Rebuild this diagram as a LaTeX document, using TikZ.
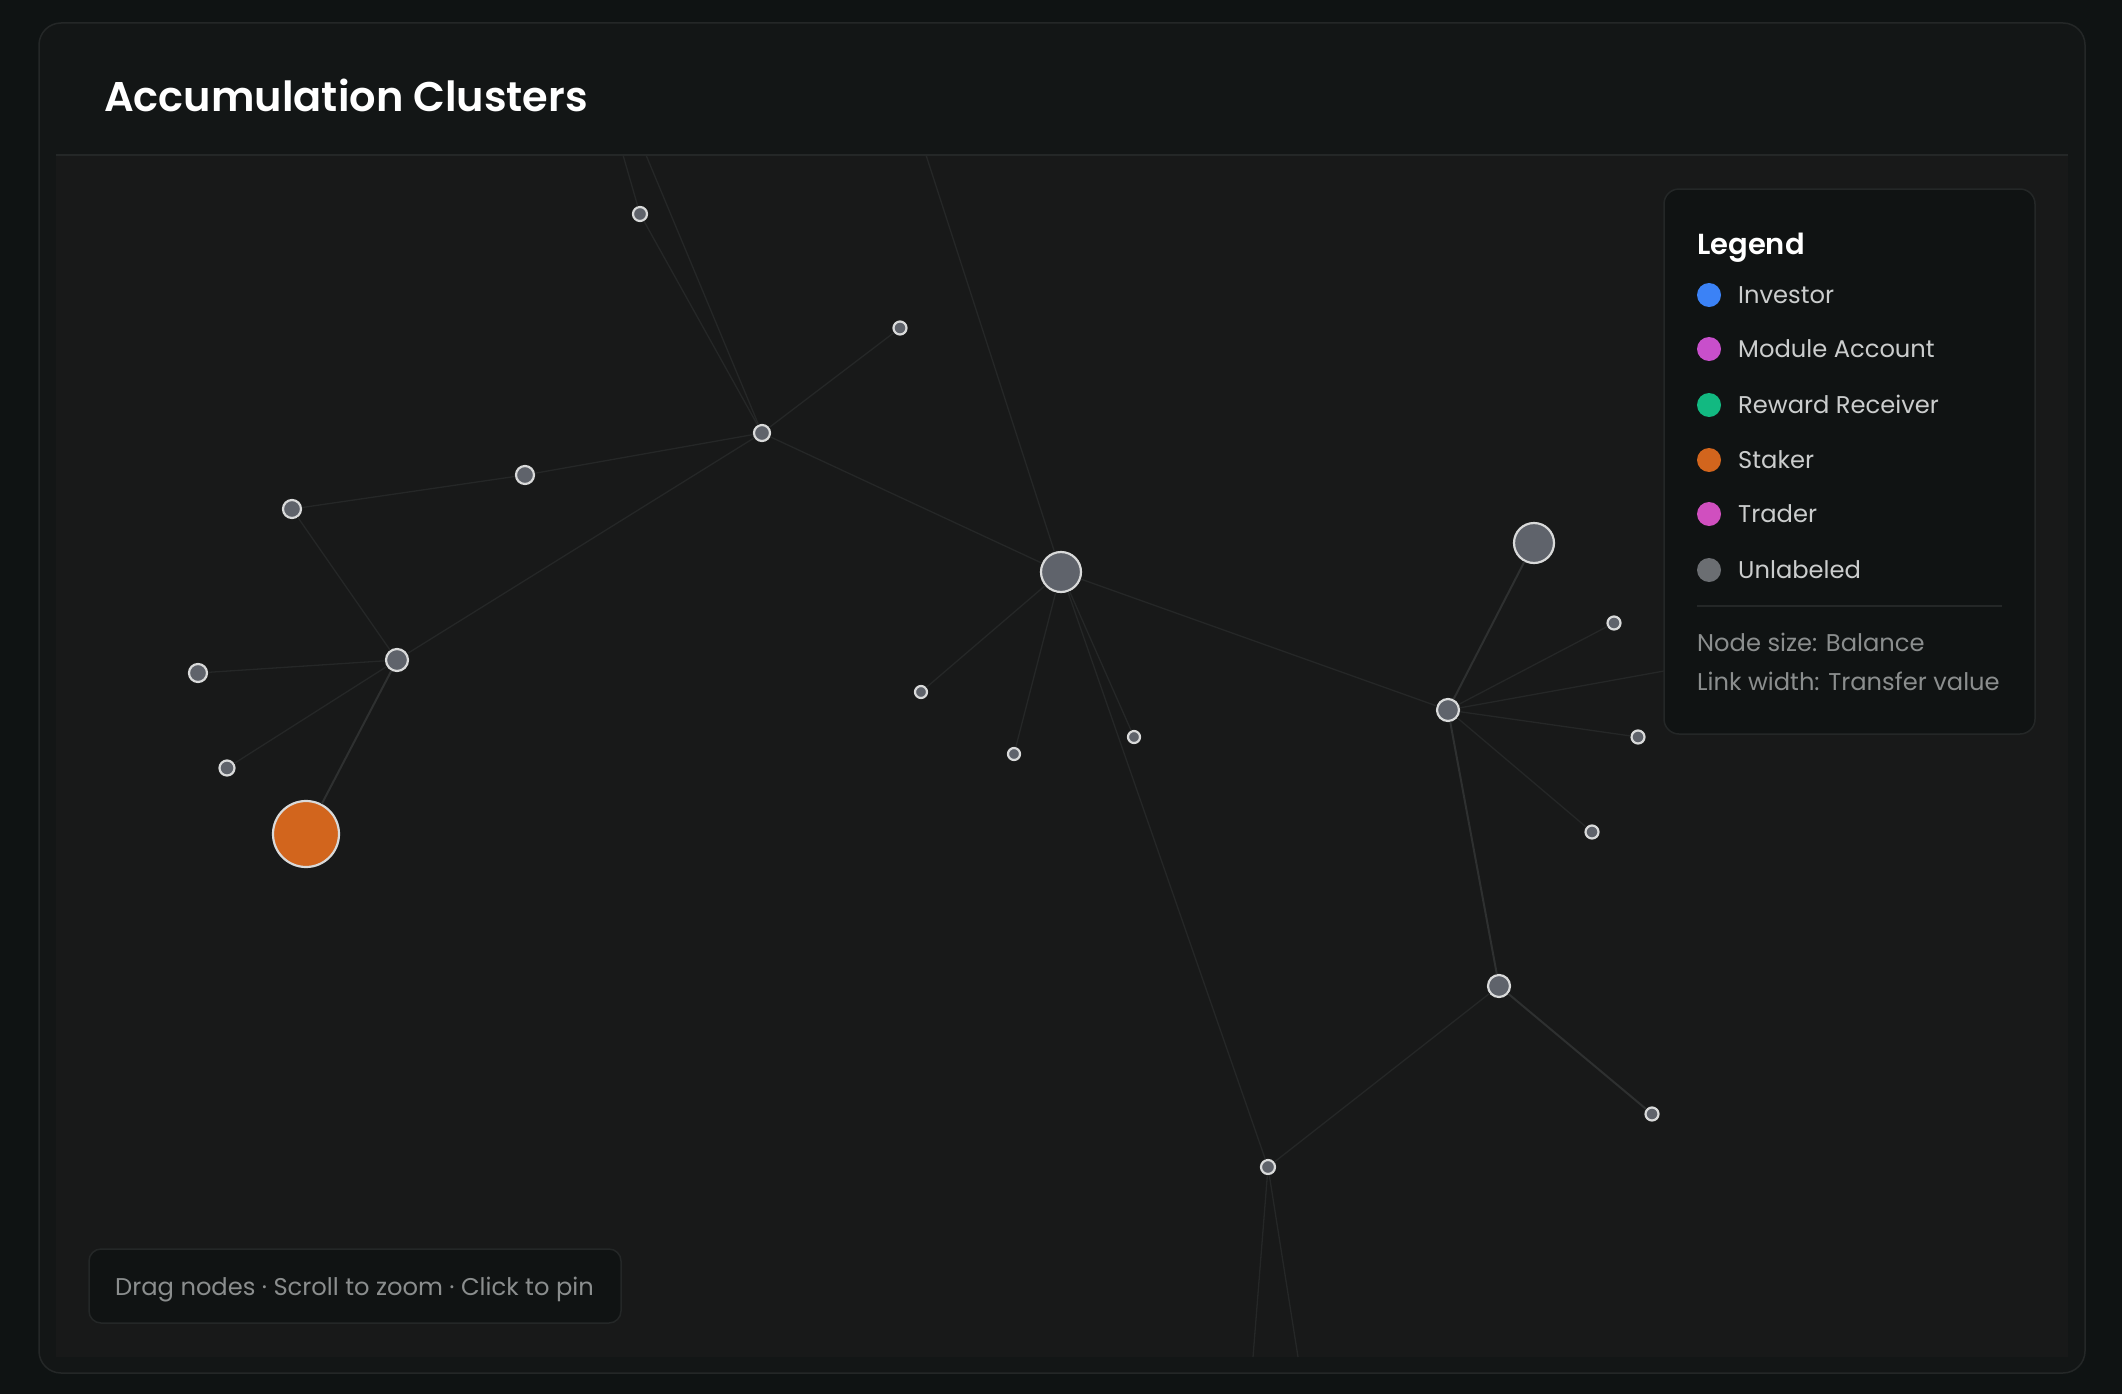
\documentclass[tikz,border=0pt]{standalone}
\usepackage{fontspec}
\setmainfont{Poppins}[BoldFont={Poppins SemiBold}]
\definecolor{pagebg}{HTML}{0F1313}
\definecolor{cardbg}{HTML}{131616}
\definecolor{plotbg}{HTML}{181919}
\definecolor{frameln}{HTML}{242727}
\definecolor{linkc}{HTML}{252727}
\definecolor{flowc}{HTML}{2E3030}
\definecolor{nodefill}{HTML}{5F636B}
\definecolor{ringc}{HTML}{D9DADA}
\definecolor{stakerc}{HTML}{D2651D}
\definecolor{investorc}{HTML}{3B82F6}
\definecolor{modulec}{HTML}{C84FCB}
\definecolor{rewardc}{HTML}{12B981}
\definecolor{traderc}{HTML}{D04FBF}
\definecolor{unlabc}{HTML}{6B6E72}
\definecolor{legtext}{HTML}{CBCDCD}
\definecolor{dimtext}{HTML}{8B8E8E}
\definecolor{panelbg}{HTML}{101313}
\begin{document}
\begin{tikzpicture}[x=1pt,y=-1pt,
    acct/.style={circle,draw=ringc,fill=nodefill,line width=2.2pt,inner sep=0pt,minimum size=#1pt},
    acct/.default=14,
    link/.style={draw=linkc,line width=1.3pt},
    flow/.style={draw=flowc,line width=2pt},
    key/.style={circle,inner sep=0pt,minimum size=24pt,fill=#1},
    txt/.style={anchor=base west,inner sep=0pt},
    keytext/.style={txt,text=legtext,font=\fontsize{24.2}{29}\selectfont}]
    \useasboundingbox (0,0) rectangle (2122,1394);
    \fill[pagebg] (0,0) rectangle (2122,1394);
    \draw[frameln,fill=cardbg,rounded corners=22pt,line width=1.5pt] (39,23) rectangle (2085,1373);
    \fill[plotbg] (56,155) rectangle (2068,1357);
    \draw[frameln,line width=2pt] (56,155) -- (2068,155);
    \node[txt,text=white,font=\fontsize{41.5}{50}\selectfont\bfseries] (title) at (104,112) {Accumulation Clusters};

    \node[acct=14] (w01) at (640,214) {};
    \node[acct=13] (w02) at (900,328) {};
    \node[acct=16] (w03) at (762,433) {};
    \node[acct=18] (w04) at (525,475) {};
    \node[acct=18] (w05) at (292,509) {};
    \node[acct=22] (w06) at (397,660) {};
    \node[acct=18] (w07) at (198,673) {};
    \node[acct=15] (w08) at (227,768) {};
    \node[acct=66,fill=stakerc] (stk) at (306,834) {};
    \node[acct=40] (w10) at (1061,572) {};
    \node[acct=12] (w11) at (921,692) {};
    \node[acct=12] (w12) at (1014,754) {};
    \node[acct=12] (w13) at (1134,737) {};
    \node[acct=40] (w14) at (1534,543) {};
    \node[acct=22] (w15) at (1448,710) {};
    \node[acct=13] (w16) at (1614,623) {};
    \node[acct=13] (w17) at (1638,737) {};
    \node[acct=13] (w18) at (1592,832) {};
    \node[acct=22] (w19) at (1499,986) {};
    \node[acct=13] (w20) at (1652,1114) {};
    \node[acct=14] (w21) at (1268,1167) {};
    \coordinate (up1) at (623,155);
    \coordinate (up2) at (646,155);
    \coordinate (up3) at (926,155);
    \coordinate (east) at (1664,671);
    \coordinate (down1) at (1253,1357);
    \coordinate (down2) at (1298,1357);

    \draw[link] (up1) -- (w01);
    \draw[link] (w01) -- (w03);
    \draw[link] (up2) -- (w03);
    \draw[link] (w02) -- (w03);
    \draw[link] (w04) -- (w03);
    \draw[link] (w03) -- (w06);
    \draw[link] (w03) -- (w10);
    \draw[link] (w05) -- (w04);
    \draw[link] (w05) -- (w06);
    \draw[link] (w07) -- (w06);
    \draw[link] (w08) -- (w06);
    \draw[flow] (w06) -- (stk);
    \draw[link] (up3) -- (w10);
    \draw[link] (w10) -- (w11);
    \draw[link] (w10) -- (w12);
    \draw[link] (w10) -- (w13);
    \draw[link] (w10) -- (w21);
    \draw[link] (w10) -- (w15);
    \draw[flow] (w15) -- (w14);
    \draw[link] (w15) -- (w16);
    \draw[link] (w15) -- (east);
    \draw[link] (w15) -- (w17);
    \draw[link] (w15) -- (w18);
    \draw[flow] (w15) -- (w19);
    \draw[flow] (w19) -- (w20);
    \draw[link] (w19) -- (w21);
    \draw[link] (w21) -- (down1);
    \draw[link] (w21) -- (down2);

    \draw[frameln,fill=panelbg,rounded corners=15pt,line width=1.5pt] (1664,189) rectangle (2035,734);
    \node[txt,text=white,font=\fontsize{29}{35}\selectfont\bfseries] (legtitle) at (1697,254) {Legend};
    \node[key=investorc] (kinv) at (1709,295) {};
    \node[keytext] (tinv) at (1738,303) {Investor};
    \node[key=modulec] (kmod) at (1709,349) {};
    \node[keytext] (tmod) at (1738,357) {Module Account};
    \node[key=rewardc] (krew) at (1709,405) {};
    \node[keytext] (trew) at (1738,413) {Reward Receiver};
    \node[key=stakerc] (ksta) at (1709,460) {};
    \node[keytext] (tsta) at (1738,468) {Staker};
    \node[key=traderc] (ktra) at (1709,514) {};
    \node[keytext] (ttra) at (1738,522) {Trader};
    \node[key=unlabc] (kunl) at (1709,570) {};
    \node[keytext] (tunl) at (1738,578) {Unlabeled};
    \draw[frameln,line width=1.5pt] (1697,606) -- (2002,606);
    \node[keytext,text=dimtext] (lsize) at (1697,651) {Node size: Balance};
    \node[keytext,text=dimtext] (lwidth) at (1697,690) {Link width: Transfer value};

    \draw[frameln,fill=panelbg,rounded corners=12pt,line width=1.5pt] (89,1249) rectangle (621,1323);
    \node[txt,text=dimtext,font=\fontsize{24.2}{29}\selectfont] (hint) at (115,1295) {Drag nodes · Scroll to zoom · Click to pin};
\end{tikzpicture}
\end{document}
